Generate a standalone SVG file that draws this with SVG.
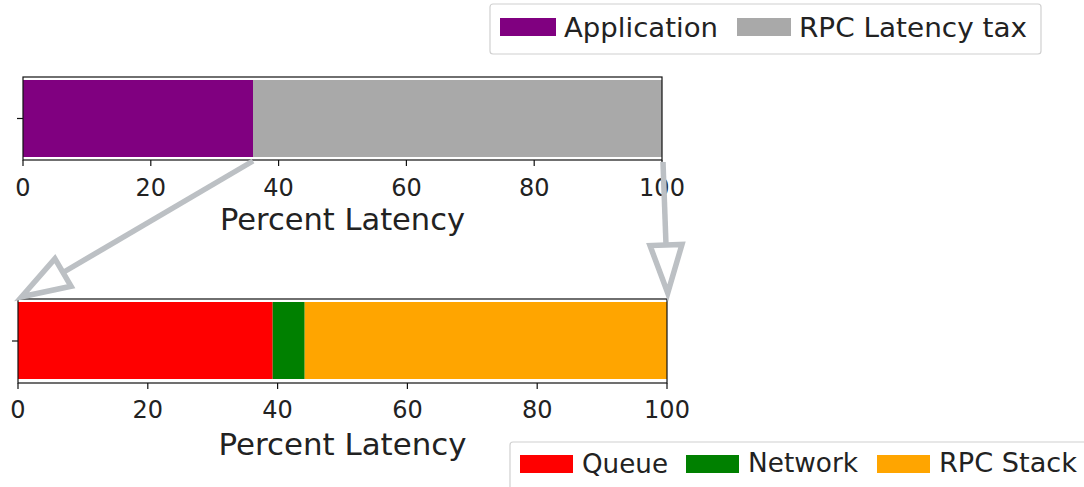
<svg xmlns="http://www.w3.org/2000/svg" width="1084" height="487" viewBox="0 0 1084 487">
  <style>
    text { font-family: "DejaVu Sans", "Liberation Sans", sans-serif; fill: #222; }
    .tick { font-size: 24px; text-anchor: middle; }
    .xlabel { font-size: 30px; text-anchor: middle; }
    .leg { font-size: 27px; }
    .axis { fill: none; stroke: #111; stroke-width: 1.2; }
    .tk { stroke: #111; stroke-width: 1.2; }
    .legbox { fill: #fff; stroke: #d0d0d0; stroke-width: 1.2; }
    .conn { stroke: #bcc0c4; stroke-width: 5.5; fill: none; }
  </style>
  <defs>
    <marker id="hollowHead" markerUnits="userSpaceOnUse" viewBox="-4 -22 58 44" markerWidth="58" markerHeight="44" refX="0" refY="0" orient="auto" overflow="visible">
      <polygon points="0,-16 48,0 0,16" fill="#fff" stroke="#bcc0c4" stroke-width="5.5" stroke-linejoin="miter"/>
    </marker>
  </defs>

  <rect width="1084" height="487" fill="#fff"/>

  <!-- upper breakdown: application vs RPC tax -->
  <g id="chart-top">
    <rect x="23" y="80" width="230" height="77" fill="#800080"/>
    <rect x="253" y="80" width="409" height="77" fill="#a9a9a9"/>
    <rect class="axis" x="23" y="77" width="639" height="83"/>
    <line class="tk" x1="17" y1="118.5" x2="23" y2="118.5"/>
    <g class="tk">
      <line x1="23" y1="160" x2="23" y2="166"/>
      <line x1="150.8" y1="160" x2="150.8" y2="166"/>
      <line x1="278.6" y1="160" x2="278.6" y2="166"/>
      <line x1="406.4" y1="160" x2="406.4" y2="166"/>
      <line x1="534.2" y1="160" x2="534.2" y2="166"/>
      <line x1="662" y1="160" x2="662" y2="166"/>
    </g>
    <text class="tick" x="23" y="196">0</text>
    <text class="tick" x="150.8" y="196">20</text>
    <text class="tick" x="278.6" y="196">40</text>
    <text class="tick" x="406.4" y="196">60</text>
    <text class="tick" x="534.2" y="196">80</text>
    <text class="tick" x="662" y="196">100</text>
    <text class="xlabel" x="342.5" y="230" textLength="245" lengthAdjust="spacingAndGlyphs">Percent Latency</text>
  </g>

  <!-- lower breakdown of the RPC tax -->
  <g id="chart-bottom">
    <rect x="18" y="302" width="254.7" height="77" fill="#ff0000"/>
    <rect x="272.7" y="302" width="32" height="77" fill="#008000"/>
    <rect x="304.7" y="302" width="362.3" height="77" fill="#ffa500"/>
    <rect class="axis" x="18" y="299" width="649" height="84"/>
    <line class="tk" x1="12" y1="341" x2="18" y2="341"/>
    <g class="tk">
      <line x1="18" y1="383" x2="18" y2="389"/>
      <line x1="147.8" y1="383" x2="147.8" y2="389"/>
      <line x1="277.6" y1="383" x2="277.6" y2="389"/>
      <line x1="407.4" y1="383" x2="407.4" y2="389"/>
      <line x1="537.2" y1="383" x2="537.2" y2="389"/>
      <line x1="667" y1="383" x2="667" y2="389"/>
    </g>
    <text class="tick" x="18" y="418">0</text>
    <text class="tick" x="147.8" y="418">20</text>
    <text class="tick" x="277.6" y="418">40</text>
    <text class="tick" x="407.4" y="418">60</text>
    <text class="tick" x="537.2" y="418">80</text>
    <text class="tick" x="667" y="418">100</text>
    <text class="xlabel" x="342.5" y="455" textLength="248" lengthAdjust="spacingAndGlyphs">Percent Latency</text>
  </g>

  <!-- legends -->
  <g id="legend-top">
    <rect class="legbox" x="490" y="4" width="551" height="50" rx="3"/>
    <rect x="500" y="18" width="56" height="18" fill="#800080"/>
    <text class="leg" x="564" y="37" textLength="154" lengthAdjust="spacingAndGlyphs">Application</text>
    <rect x="737" y="18" width="54" height="18" fill="#a9a9a9"/>
    <text class="leg" x="799" y="37" textLength="228" lengthAdjust="spacingAndGlyphs">RPC Latency tax</text>
  </g>
  <g id="legend-bottom">
    <rect class="legbox" x="510" y="442" width="590" height="60" rx="3"/>
    <rect x="520" y="455" width="53" height="18" fill="#ff0000"/>
    <text class="leg" x="582" y="473" textLength="86" lengthAdjust="spacingAndGlyphs">Queue</text>
    <rect x="686" y="455" width="53" height="18" fill="#008000"/>
    <text class="leg" x="748" y="472" textLength="110" lengthAdjust="spacingAndGlyphs">Network</text>
    <rect x="877" y="455" width="53" height="18" fill="#ffa500"/>
    <text class="leg" x="939" y="472" textLength="138" lengthAdjust="spacingAndGlyphs">RPC Stack</text>
  </g>

  <!-- zoom connectors from the tax bar to the breakdown bar -->
  <g id="connectors">
    <line class="conn" x1="253" y1="161" x2="63" y2="272.5" marker-end="url(#hollowHead)"/>
    <line class="conn" x1="663" y1="162" x2="666" y2="245" marker-end="url(#hollowHead)"/>
  </g>
</svg>
